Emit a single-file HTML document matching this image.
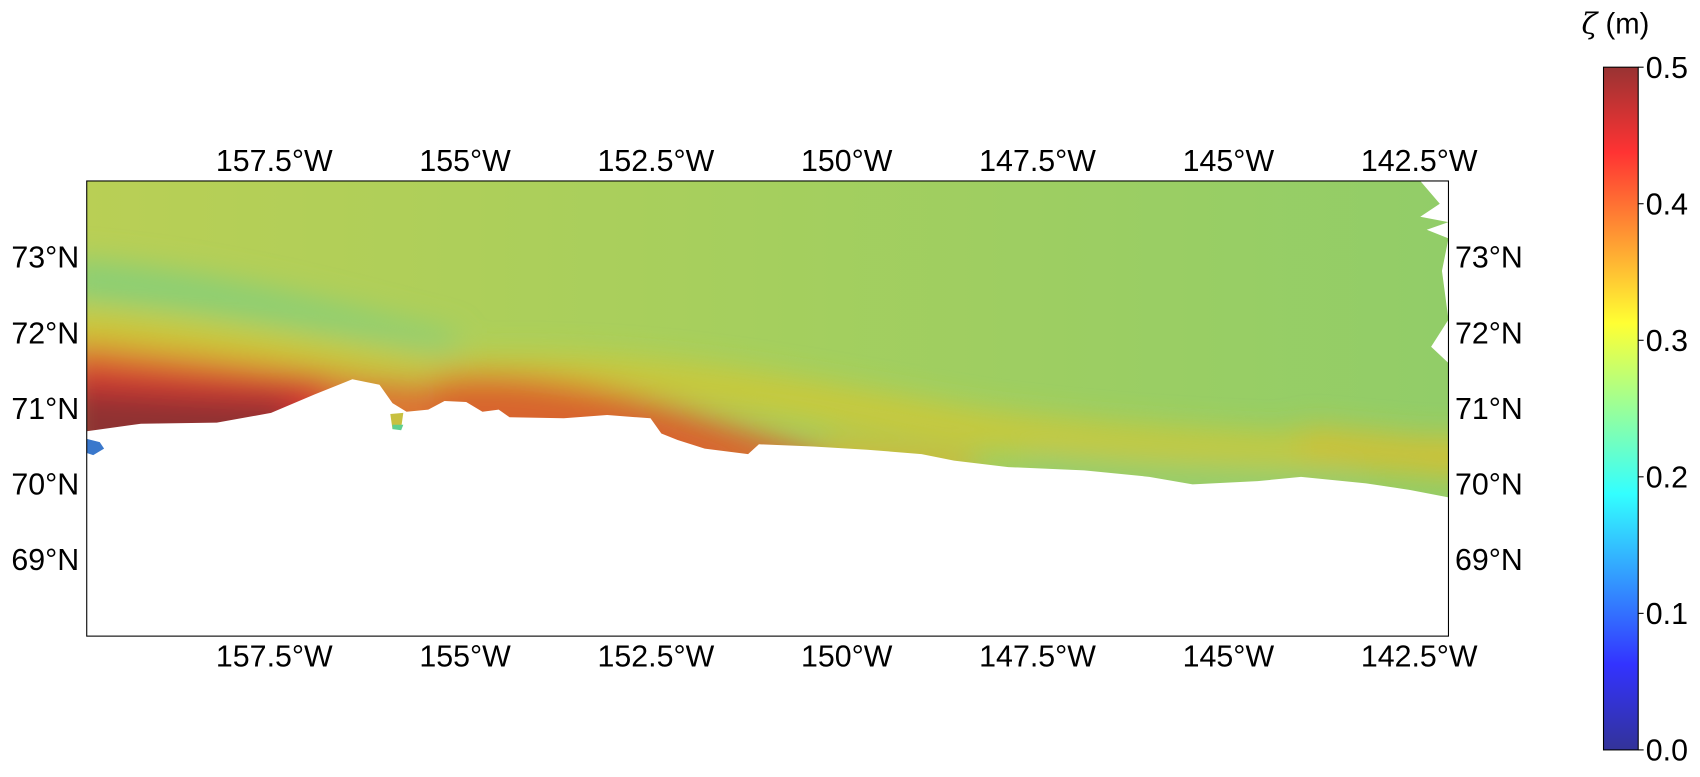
<!DOCTYPE html>
<html><head><meta charset="utf-8"><style>
html,body{margin:0;padding:0;background:#fff;}
svg{display:block;font-family:"Liberation Sans","DejaVu Sans",sans-serif;}
</style></head><body>
<svg id="fig" width="1700" height="777" viewBox="0 0 1568 717" preserveAspectRatio="none">
<defs>
<clipPath id="mapclip"><rect x="80" y="167" width="1256" height="420"/></clipPath>
<filter id="blur" x="-20%" y="-20%" width="140%" height="140%"><feGaussianBlur stdDeviation="14"/></filter>
<linearGradient id="bg" x1="0" y1="0" x2="1" y2="0">
<stop offset="0" stop-color="#b9cf55"/><stop offset="0.5" stop-color="#a5cf5e"/><stop offset="1" stop-color="#92cd68"/>
</linearGradient>
<linearGradient id="cbar" x1="0" y1="1" x2="0" y2="0">
<stop offset="0" stop-color="#333399"/><stop offset="0.125" stop-color="#3333ff"/>
<stop offset="0.375" stop-color="#33ffff"/><stop offset="0.625" stop-color="#ffff33"/>
<stop offset="0.875" stop-color="#ff3333"/><stop offset="1" stop-color="#993333"/>
</linearGradient>
</defs>
<g clip-path="url(#mapclip)">
<rect x="80" y="167" width="1256" height="420" fill="url(#bg)"/>
<g filter="url(#blur)">
<path d="M60,240 C200,250 300,280 420,310 L420,330 C300,305 200,285 60,275 Z" fill="#86cf78"/>
<path d="M60,285 C200,300 320,320 430,330 C600,325 700,345 900,380 C1050,400 1200,405 1360,405 L1360,430 C1200,430 1050,425 900,410 C700,380 600,355 450,350 C300,345 200,330 60,320 Z" fill="#cdc838"/>
<path d="M60,315 C200,330 280,340 340,350 L600,372 L720,410 L720,440 L60,440 Z" fill="#dc7430"/>
<path d="M60,335 C150,345 240,350 300,352 L300,440 L60,440 Z" fill="#d23530"/>
<path d="M60,360 C150,365 220,368 270,370 L260,440 L60,440 Z" fill="#8e3232"/>
<path d="M400,350 C450,340 550,350 650,385 L760,420 L760,440 L400,440 Z" fill="#d8652e"/>
<path d="M760,405 C820,410 860,415 900,420 L900,445 L760,440 Z" fill="#cfb838"/>
<path d="M950,415 C1050,430 1150,430 1250,440 L1250,470 L950,460 Z" fill="#96cd6c"/>
<path d="M1200,395 C1260,400 1300,405 1360,408 L1360,440 C1300,435 1250,430 1200,425 Z" fill="#d4c030"/>
</g>
<path d="M80,420 L80,398 L130,391 L200,390 L250,381 L290,364 L325,350 L350,355 L362,372 L375,380 L395,378 L410,370 L430,371 L445,380 L460,378 L470,385 L520,386 L560,383 L600,386 L610,400 L625,406 L650,414 L690,419 L700,410 L750,412 L800,415 L850,419 L880,425 L930,431 L1000,434 L1060,440 L1100,447 L1160,444 L1200,440 L1260,446 L1300,452 L1336,459 L1336,590 L80,590 Z" fill="#ffffff"/>
<path d="M1302,167 L1336,167 L1336,205 L1316,212 L1336,220 L1330,250 L1336,295 L1320,320 L1336,335 L1336,167 Z M1310,167 L1328,188 L1310,200 L1336,205 L1336,167 Z" fill="#ffffff"/>
<path d="M80,405 L92,408 L96,414 L86,420 L80,418 Z" fill="#3a78cc"/>
<path d="M360,382 L372,381 L370,395 L362,396 Z" fill="#c8c040"/>
<path d="M362,392 L372,392 L370,397 L362,396 Z" fill="#5fcf8f"/>
</g>
<rect x="80" y="167" width="1256" height="420" fill="none" stroke="#000" stroke-width="1"/>
<g id="lonTop" font-size="28" text-anchor="middle"></g>
<g id="lonBot" font-size="28" text-anchor="middle"></g>
<g id="latL" font-size="28" text-anchor="end"></g>
<g id="latR" font-size="28" text-anchor="start"></g>
<rect x="1479" y="62" width="32" height="630" fill="url(#cbar)" stroke="#000" stroke-width="1"/>
<g id="cbTicks" font-size="28"></g>
<text x="1490" y="31" font-size="27" text-anchor="middle"><tspan font-style="italic" font-family="DejaVu Serif, serif">ζ</tspan> (m)</text>
</svg>
<script>
const lonTicks = [157.5, 155, 152.5, 150, 147.5, 145, 142.5];
const lonLabels = ["157.5°W","155°W","152.5°W","150°W","147.5°W","145°W","142.5°W"];
const latTicks = [73, 72, 71, 70, 69];
const latLabels = ["73°N","72°N","71°N","70°N","69°N"];
const cbValues = [0.0, 0.1, 0.2, 0.3, 0.4, 0.5];
const cbLabels = ["0.0","0.1","0.2","0.3","0.4","0.5"];
const NS = "http://www.w3.org/2000/svg";
function xLon(w){ return 253 + (157.5 - w) * 70.4; }
function yLat(l){ return 237 + (73 - l) * 69.8; }
function yCb(v){ return 692 - v / 0.5 * 630; }
function txt(g, x, y, s){ const t = document.createElementNS(NS,"text"); t.setAttribute("x",x); t.setAttribute("y",y); t.textContent = s; g.appendChild(t); return t; }
const gt = document.getElementById("lonTop"), gb = document.getElementById("lonBot");
lonTicks.forEach((w,i)=>{
  const a = txt(gt, xLon(w), 158, lonLabels[i]);
  
  
  const b = txt(gb, xLon(w), 615, lonLabels[i]);
  
  
});
const gl = document.getElementById("latL"), gr = document.getElementById("latR");
latTicks.forEach((l,i)=>{
  const a = txt(gl, 73, yLat(l)+10, latLabels[i]);
  
  
  const b = txt(gr, 1342, yLat(l)+10, latLabels[i]);
  
  
});
const gc = document.getElementById("cbTicks");
cbValues.forEach((v,i)=>{
  const y = yCb(v);
  const ln = document.createElementNS(NS,"line");
  ln.setAttribute("x1",1511); ln.setAttribute("x2",1516); ln.setAttribute("y1",y); ln.setAttribute("y2",y); ln.setAttribute("stroke","#000");
  
  
  gc.appendChild(ln);
  const t = txt(gc, 1518, y+10, cbLabels[i]);
  
  
});
</script>
</body></html>
